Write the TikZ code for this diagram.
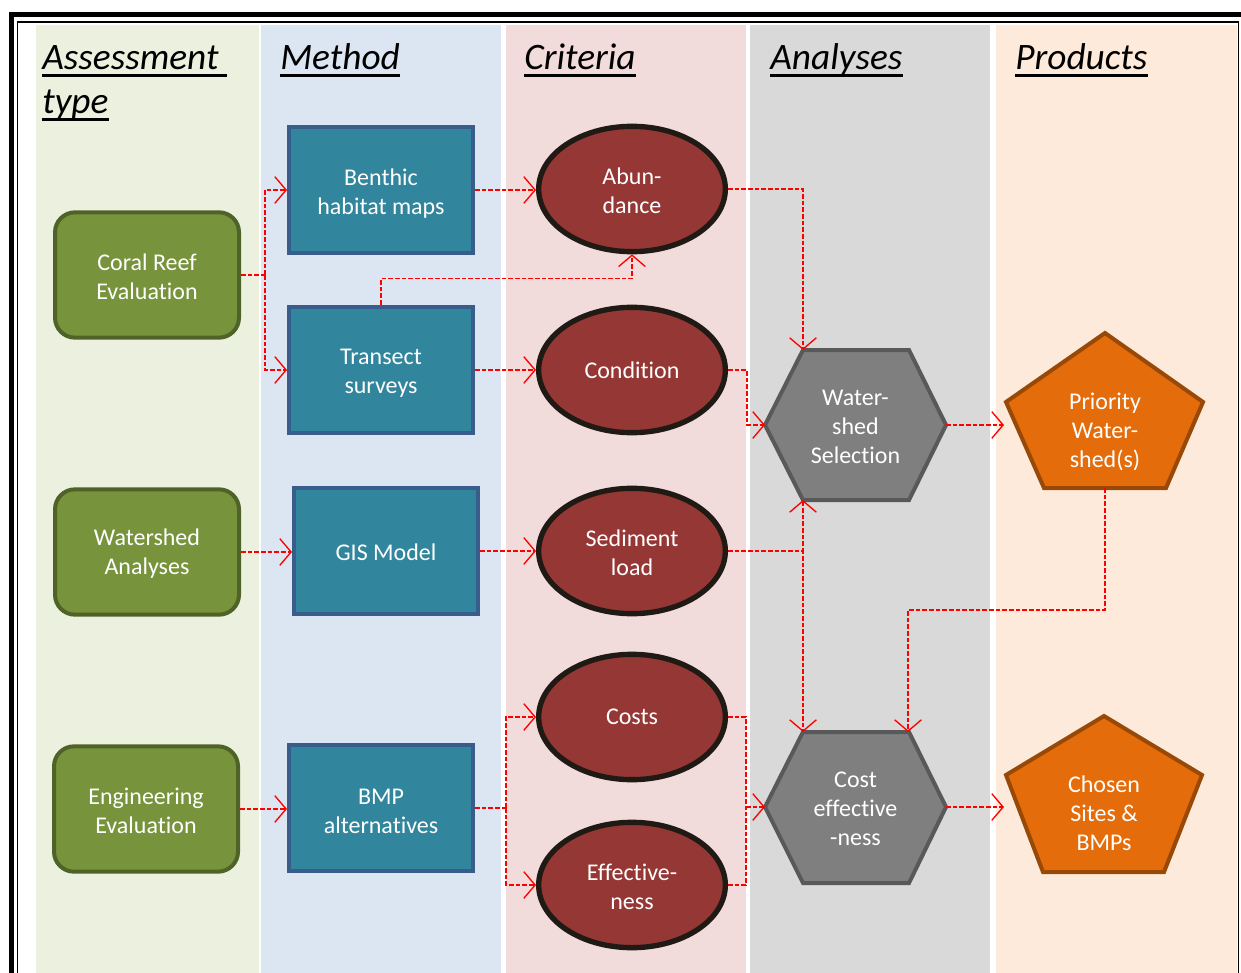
\documentclass[tikz,border=0pt]{standalone}
\usepackage{fontspec}
\setmainfont{Carlito}[Ligatures=NoCommon]
\usetikzlibrary{arrows.meta,shapes.geometric,calc}
\definecolor{bandA}{HTML}{EBF1DE}
\definecolor{bandM}{HTML}{DCE6F2}
\definecolor{bandC}{HTML}{F2DCDB}
\definecolor{bandAn}{HTML}{D9D9D9}
\definecolor{bandP}{HTML}{FDEADA}
\definecolor{cgreen}{HTML}{77933C}
\definecolor{cgreenD}{HTML}{4F6228}
\definecolor{cteal}{HTML}{31859C}
\definecolor{ctealD}{HTML}{385D8A}
\definecolor{cell}{HTML}{953735}
\definecolor{cellD}{HTML}{1F1A14}
\definecolor{cgray}{HTML}{7F7F7F}
\definecolor{cgrayD}{HTML}{595959}
\definecolor{corange}{HTML}{E46C0A}
\definecolor{corangeD}{HTML}{984807}
\definecolor{cred}{RGB}{255,0,0}
\newcommand{\nodefont}{\fontsize{18}{21.75}\selectfont}
\newcommand{\headfont}{\fontsize{28}{33.75}\selectfont\itshape}
\begin{document}
\begin{tikzpicture}[x=0.75pt,y=-0.75pt,
  head/.style={inner sep=0pt, font=\headfont, text=black},
  uline/.style={line width=2pt, black},
  greenbox/.style={draw=cgreenD, fill=cgreen, line width=3pt, rounded corners=15pt,
    minimum width=138pt, minimum height=94pt},
  tealbox/.style={draw=ctealD, fill=cteal, line width=3pt,
    minimum width=138pt, minimum height=95pt},
  critell/.style={ellipse, draw=cellD, fill=cell, line width=4pt,
    minimum width=140pt, minimum height=94pt, inner sep=0pt},
  hexshape/.style={draw=cgrayD, fill=cgray, line width=3pt},
  pentshape/.style={draw=corangeD, fill=corange, line width=3pt},
  shapetext/.style={text=white, font=\nodefont, align=center, inner sep=0pt},
  connline/.style={draw=cred, color=cred, line width=1.1pt, dash pattern=on 3.5pt off 1.5pt},
  conn/.style={connline, -{Straight Barb[length=8.5pt,width=20pt,line width=1pt]}}
]
\useasboundingbox (0,0) rectangle (1241,973);
\clip (0,0) rectangle (1241,973);
\fill[white] (0,0) rectangle (1241,973);
% bands
\fill[bandA] (36,25) rectangle (259,980);
\fill[bandM] (261,25) rectangle (501,980);
\fill[bandC] (506,25) rectangle (746,980);
\fill[bandAn] (750,25) rectangle (990,980);
\fill[bandP] (996,25) rectangle (1237,980);
% frame
\draw[line width=3.75pt, black] (11,990) -- (11,15) -- (1260,15);
\draw[line width=1pt, black] (17.5,990) -- (17.5,22) -- (1238.5,22) -- (1238.5,990);
% headings
\node[head, anchor=base west] (hA) at (42,70) {Assessment\ \mbox{}};
\node[head, anchor=base west] (hA2) at (42,114) {type};
\node[head, anchor=base west] (hM) at (280,70) {Method};
\node[head, anchor=base west] (hC) at (524,70) {Criteria};
\node[head, anchor=base west] (hAn) at (770,70) {Analyses};
\node[head, anchor=base west] (hP) at (1015,70) {Products};
\foreach \h in {hA,hA2,hM,hC,hAn,hP}
  \draw[uline] ([yshift=-4pt]\h.base west) -- ([yshift=-4pt]\h.base east);
% assessment boxes
\node[greenbox] (coral) at (147,275) {};
\node[shapetext] (coralT) at ([yshift=-1.5pt]coral.center) {Coral Reef\\Evaluation};
\node[greenbox] (wsa) at (147,552) {};
\node[shapetext] (wsaT) at ([yshift=-1.5pt]wsa.center) {Watershed\\Analyses};
\node[greenbox] (eng) at (146,809) {};
\node[shapetext] (engT) at ([yshift=-1.5pt]eng.center) {Engineering\\Evaluation};
% method boxes
\node[tealbox] (benthic) at (381,190) {};
\node[shapetext] (benthicT) at ([yshift=-2.5pt]benthic.center) {Benthic\\habitat maps};
\node[tealbox] (transect) at (381,370) {};
\node[shapetext] (transectT) at ([yshift=-2.5pt]transect.center) {Transect\\surveys};
\node[tealbox] (gis) at (386,551) {};
\node[shapetext] (gisT) at ([yshift=-1pt]gis.center) {GIS Model};
\node[tealbox] (bmp) at (381,808) {};
\node[shapetext] (bmpT) at ([yshift=-2.5pt]bmp.center) {BMP\\alternatives};
% criteria ellipses
\node[critell] (abund) at (632,189) {};
\node[shapetext] (abundT) at ([yshift=-1.5pt]abund.center) {Abun-\\dance};
\node[critell] (cond) at (632,370) {};
\node[shapetext] (condT) at (cond.center) {Condition};
\node[critell] (sed) at (632,551) {};
\node[shapetext] (sedT) at ([yshift=-1.5pt]sed.center) {Sediment\\load};
\node[critell] (costs) at (632,717) {};
\node[shapetext] (costsT) at (costs.center) {Costs};
\node[critell] (eff) at (632,885) {};
\node[shapetext] (effT) at ([yshift=-1.5pt]eff.center) {Effective-\\ness};
% hexagons
\draw[hexshape] (765,425) -- (803,350) -- (909,350) -- (946,425) -- (909,500) -- (803,500) -- cycle;
\node[shapetext] (wsel) at (855.5,426.5) {Water-\\shed\\Selection};
\draw[hexshape] (765,807) -- (803,732) -- (909,732) -- (946,807) -- (909,883) -- (803,883) -- cycle;
\node[shapetext] (ceff) at (855.5,808.5) {Cost\\effective\\-ness};
\coordinate (wsL) at (765,425);
\coordinate (wsR) at (946,425);
\coordinate (wsTL) at (803,350);
\coordinate (wsBL) at (803,500);
\coordinate (ceL) at (765,807);
\coordinate (ceR) at (946,807);
\coordinate (ceTL) at (803,732);
\coordinate (ceTR) at (908,732);
% pentagons
\draw[pentshape] (1105,333) -- (1203,402) -- (1166,488) -- (1044,488) -- (1006,402) -- cycle;
\node[shapetext] (prio) at (1105,432) {Priority\\Water-\\shed(s)};
\draw[pentshape] (1104,716) -- (1202,775) -- (1164,872) -- (1043,872) -- (1006,775) -- cycle;
\node[shapetext] (chosen) at (1104,813.5) {Chosen\\Sites \&\\BMPs};
\coordinate (prW) at (1004,425);
\coordinate (prB) at (1105,488);
\coordinate (chW) at (1004,807);
% connectors
\draw[connline] (coral.east) -- ++(24,0) coordinate (j1);
\draw[conn] (j1) |- (benthic.west);
\draw[conn] (j1) |- (transect.west);
\draw[conn] (benthic.east) -- (abund.west |- benthic.east);
\draw[conn] (transect.north) -- ++(0,-26) -| (abund.south);
\draw[conn] (transect.east) -- (cond.west);
\draw[conn] (abund.east) -| (wsTL);
\draw[conn] (cond.east) -- ++(19,0) |- (wsL);
\draw[conn] (wsa.east) -- (gis.west |- wsa.east);
\draw[conn] (gis.east) -- (sed.west);
\draw[conn] (sed.east) -| (wsBL);
\draw[conn] (sed.east) -| (ceTL);
\draw[conn] (wsR) -- (prW);
\draw[conn] (prB) -- ++(0,122) -| (ceTR);
\draw[conn] (eng.east) -- (bmp.west |- eng.east);
\draw[connline] (bmp.east) -- ++(31,0) coordinate (j2);
\draw[conn] (j2) |- (costs.west);
\draw[conn] (j2) |- (eff.west);
\coordinate (j3) at (746,807);
\draw[connline] (costs.east) -| (j3);
\draw[connline] (eff.east) -| (j3);
\draw[conn] (j3) -- (ceL);
\draw[conn] (ceR) -- (chW);
\end{tikzpicture}
\end{document}
